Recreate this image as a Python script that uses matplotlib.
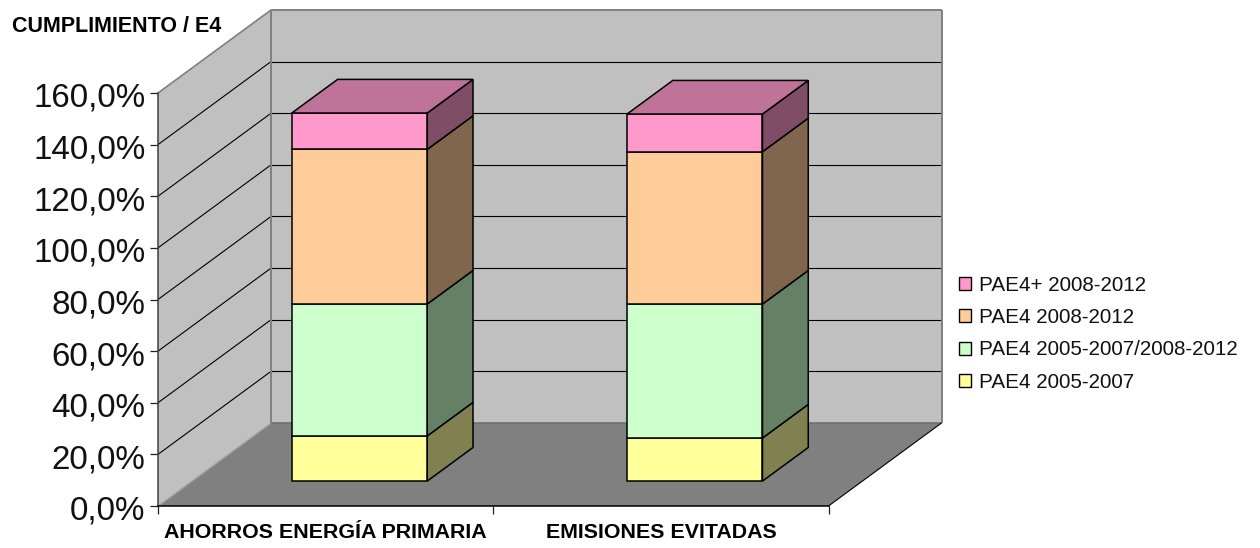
import matplotlib
matplotlib.use("Agg")
import matplotlib.pyplot as plt
from matplotlib.patches import Patch
from matplotlib.transforms import ScaledTranslation
import numpy as np

categories = ["AHORROS ENERGÍA PRIMARIA", "EMISIONES EVITADAS"]
series_names = ["PAE4 2005-2007", "PAE4 2005-2007/2008-2012", "PAE4 2008-2012", "PAE4+ 2008-2012"]
pae_a = [17.5, 16.7]
pae_b = [51.1, 51.9]
pae_c = [59.9, 59.0]
pae_d = [14.1, 14.6]
y_ticks = [0, 20, 40, 60, 80, 100, 120, 140, 160]
y_labels = ["0,0%", "20,0%", "40,0%", "60,0%", "80,0%", "100,0%", "120,0%", "140,0%", "160,0%"]

front = ["#FFFF99", "#CCFFCC", "#FFCC99", "#FF99CC"]
side = ["#808050", "#668066", "#80664D", "#804D66"]
top_col = "#BF7399"
W, H = 1260, 548
plt.rcParams["font.family"] = ["Liberation Sans", "DejaVu Sans"]

fig = plt.figure(figsize=(W / 100, H / 100), dpi=100)
ax = fig.add_axes([158 / W, 1 - 506 / H, (828.5 - 158) / W, 413 / H])
ax.set_xlim(0, 2)
ax.set_ylim(0, 160)
ax.patch.set_alpha(0)

DX = 113 / 335.25   # depth offset in category units
DY = 83 / 2.581     # depth offset in value units


def P(x, v, d):
    return x + d * DX, v + d * DY


def poly(pts, fc, ec="none", lw=0.0, z=1):
    xs, ys = zip(*pts)
    ax.fill(xs, ys, facecolor=fc, edgecolor=ec, linewidth=lw, zorder=z,
            clip_on=False, joinstyle="miter")


# walls and floor
poly([P(0, 0, 0), P(0, 160, 0), P(0, 160, 1), P(0, 0, 1)], "#C0C0C0", z=1)
poly([P(0, 0, 1), P(0, 160, 1), P(2, 160, 1), P(2, 0, 1)], "#C0C0C0", z=1)
poly([P(0, 0, 0), P(0, 0, 1), P(2, 0, 1), P(2, 0, 0)], "#808080", z=1)


def seg(a, b, color, lw, z=2):
    ax.plot([a[0], b[0]], [a[1], b[1]], color=color, lw=lw, zorder=z,
            clip_on=False, solid_capstyle="butt")


for v in y_ticks[1:-1]:
    seg(P(0, v, 0), P(0, v, 1), "#000000", 0.8)
    seg(P(0, v, 1), P(2, v, 1), "#000000", 0.8)
gray = "#808080"
seg(P(0, 160, 0), P(0, 160, 1), gray, 1.2)
seg(P(0, 160, 1), P(2, 160, 1), gray, 1.4)
seg(P(0, 0, 1), P(0, 160, 1), gray, 1.4)
seg(P(2, 0, 1), P(2, 160, 1), gray, 1.4)
seg(P(0, 0, 0), P(0, 0, 1), "#A8A8A8", 1.0)
seg(P(0, 0, 1), P(2, 0, 1), "#707070", 1.2)
seg(P(2, 0, 0), P(2, 0, 1), "#000000", 0.8)

# stacked bars
bar_w = 0.404
d0, d1 = 0.30, 0.705
stack = [pae_a, pae_b, pae_c, pae_d]
for i in range(len(categories)):
    l, r = i + (1 - bar_w) / 2, i + (1 + bar_w) / 2
    base = 0.0
    for k, s in enumerate(stack):
        t = base + s[i]
        poly([P(r, base, d0), P(r, base, d1), P(r, t, d1), P(r, t, d0)], side[k], "#000000", 1.1, z=3)
        poly([P(l, base, d0), P(r, base, d0), P(r, t, d0), P(l, t, d0)], front[k], "#000000", 1.1, z=4)
        base = t
    poly([P(l, base, d0), P(r, base, d0), P(r, base, d1), P(l, base, d1)], top_col, "#000000", 1.1, z=4)

# axes
for s in ("top", "right"):
    ax.spines[s].set_visible(False)
ax.spines["left"].set_color("#404040")
ax.spines["left"].set_linewidth(1.1)
ax.spines["bottom"].set_color("#000000")
ax.spines["bottom"].set_linewidth(1.1)
for s in ax.spines.values():
    s.set_zorder(6)
ax.set_yticks(y_ticks, y_labels)
ax.tick_params(axis="y", length=6, width=0.9, color="#202020", labelsize=23.9, pad=3, labelcolor="#111111")
ax.set_xticks([0, 1, 2], ["", "", ""])
ax.set_xticks([0.5, 1.5], categories, minor=True)
ax.tick_params(axis="x", which="major", length=6, width=0.9, color="#202020")
ax.tick_params(axis="x", which="minor", length=0, pad=12.5, labelsize=15.4, labelcolor="#000000")
for t in ax.get_xticklabels(minor=True):
    t.set_fontweight("bold")
offset = ScaledTranslation(0, -2 / 100, fig.dpi_scale_trans)
for t in ax.get_yticklabels():
    t.set_transform(t.get_transform() + offset)

fig.text(12 / W, 1 - 27 / H, "CUMPLIMIENTO / E4", fontsize=15.5, fontweight="bold",
         va="center", ha="left", color="#000000")

handles = [Patch(facecolor=front[k], edgecolor="#000000", linewidth=1.0, label=series_names[k])
           for k in [3, 2, 1, 0]]
fig.legend(handles=handles, loc="upper left", bbox_to_anchor=(959 / W, 1 - 276 / H),
           frameon=False, fontsize=14.85, borderpad=0, borderaxespad=0,
           handlelength=0.6, handleheight=0.6, handletextpad=0.35, labelspacing=0.64,
           labelcolor="#111111")

fig.savefig("out.png", dpi=100)
